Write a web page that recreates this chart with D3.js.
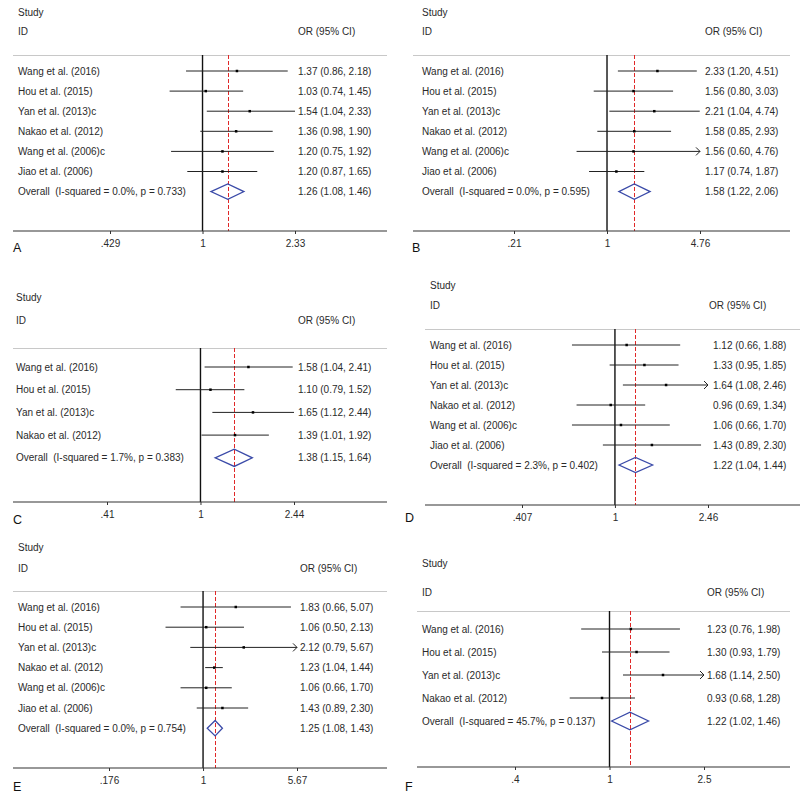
<!DOCTYPE html>
<html><head><meta charset="utf-8">
<script src="https://cdnjs.cloudflare.com/ajax/libs/d3/7.8.5/d3.min.js"></script>
<style>body{margin:0;background:#fff}svg{display:block}text{font-family:"Liberation Sans",Arial,sans-serif}</style>
</head><body>
<script>
// ---- data ----
const studies6 = ["Wang et al. (2016)","Hou et al. (2015)","Yan et al. (2013)c","Nakao et al. (2012)","Wang et al. (2006)c","Jiao et al. (2006)"];
const studies4 = studies6.slice(0, 4);
const panelIds = ["A","B","C","D","E","F"];

const orA = [1.37,1.03,1.54,1.36,1.20,1.20], loA = [0.86,0.74,1.04,0.98,0.75,0.87], hiA = [2.18,1.45,2.33,1.90,1.92,1.65];
const orB = [2.33,1.56,2.21,1.58,1.56,1.17], loB = [1.20,0.80,1.04,0.85,0.60,0.74], hiB = [4.51,3.03,4.74,2.93,4.76,1.87];
const orC = [1.58,1.10,1.65,1.39], loC = [1.04,0.79,1.12,1.01], hiC = [2.41,1.52,2.44,1.92];
const orD = [1.12,1.33,1.64,0.96,1.06,1.43], loD = [0.66,0.95,1.08,0.69,0.66,0.89], hiD = [1.88,1.85,2.46,1.34,1.70,2.30];
const orE = [1.83,1.06,2.12,1.23,1.06,1.43], loE = [0.66,0.50,0.79,1.04,0.66,0.89], hiE = [5.07,2.13,5.67,1.44,1.70,2.30];
const orF = [1.23,1.30,1.68,0.93], loF = [0.76,0.93,1.14,0.68], hiF = [1.98,1.79,2.50,1.28];

const overallOR = [1.26,1.58,1.38,1.22,1.25,1.22];
const overallLo = [1.08,1.22,1.15,1.04,1.08,1.02];
const overallHi = [1.46,2.06,1.64,1.44,1.43,1.46];
const iSquared = ["0.0%","0.0%","1.7%","2.3%","0.0%","45.7%"];
const pValues = ["0.733","0.595","0.383","0.402","0.754","0.137"];

const tickValues = [[0.429,1,2.33],[0.21,1,4.76],[0.41,1,2.44],[0.407,1,2.46],[0.176,1,5.67],[0.4,1,2.5]];
const tickLabels = [[".429","1","2.33"],[".21","1","4.76"],[".41","1","2.44"],[".407","1","2.46"],[".176","1","5.67"],[".4","1","2.5"]];
const arrowRows = [[],[4],[],[2],[2],[2]];

// ---- layout (pixels) ----
const layout = [
  {left:13, right:387, labelX:18, orX:298, orHX:298, studyY:12, idY:31, sepY:55, row0:71, step:20.1, axisY:231, tLo:110, tHi:295, letX:13, letY:248},
  {left:413, right:790, labelX:422, orX:705, orHX:705, studyY:12, idY:31, sepY:55, row0:71, step:20.1, axisY:231, tLo:514, tHi:700, letX:412, letY:248},
  {left:13, right:387, labelX:16, orX:298, orHX:298, studyY:297, idY:320, sepY:348, row0:367, step:22.7, axisY:502, tLo:107, tHi:294, letX:13, letY:520},
  {left:425, right:800, labelX:430, orX:713, orHX:709, studyY:285, idY:305, sepY:329, row0:345, step:20, axisY:505, tLo:522, tHi:708, letX:405, letY:518},
  {left:13, right:387, labelX:18, orX:300, orHX:300, studyY:547, idY:568, sepY:591, row0:607, step:20.2, axisY:768, tLo:109, tHi:297, letX:13, letY:787},
  {left:417, right:790, labelX:422, orX:707, orHX:707, studyY:563, idY:592, sepY:611, row0:629, step:23, axisY:767, tLo:515, tHi:704, letX:405, letY:787}
];

const panels = [
  {studies:studies6, or:orA, lo:loA, hi:hiA},
  {studies:studies6, or:orB, lo:loB, hi:hiB},
  {studies:studies4, or:orC, lo:loC, hi:hiC},
  {studies:studies6, or:orD, lo:loD, hi:hiD},
  {studies:studies6, or:orE, lo:loE, hi:hiE},
  {studies:studies4, or:orF, lo:loF, hi:hiF}
];

const fmt = d3.format(".2f");
const snap = v => Math.round(v) + 0.5;
const svg = d3.select("body").append("svg").attr("width",800).attr("height",794);
const txtCol = "#2a2a2a";
const FS = 10;

panels.forEach((p, k) => {
  const L = layout[k];
  const g = svg.append("g");
  const tv = tickValues[k];
  const x = d3.scaleLog().domain([tv[0], tv[2]]).range([L.tLo, L.tHi]);
  const n = p.studies.length;
  const y = i => L.row0 + i * L.step;

  g.append("text").attr("x",L.labelX).attr("y",L.studyY).attr("dy","0.35em").attr("font-size",FS).attr("fill",txtCol).text("Study");
  g.append("text").attr("x",L.labelX).attr("y",L.idY).attr("dy","0.35em").attr("font-size",FS).attr("fill",txtCol).text("ID");
  g.append("text").attr("x",L.orHX).attr("y",L.idY).attr("dy","0.35em").attr("font-size",FS).attr("fill",txtCol).text("OR (95% CI)");

  g.append("line").attr("x1",L.left).attr("x2",L.right).attr("y1",snap(L.sepY)).attr("y2",snap(L.sepY)).attr("stroke","#c8c8c8").attr("stroke-width",1);

  // null line and overall dashed line
  g.append("line").attr("x1",x(1)).attr("x2",x(1)).attr("y1",L.sepY).attr("y2",L.axisY).attr("stroke","#111").attr("stroke-width",1.4);
  const xo = snap(x(overallOR[k]));
  g.append("line").attr("x1",xo).attr("x2",xo).attr("y1",L.sepY).attr("y2",L.axisY)
    .attr("stroke","#e02828").attr("stroke-width",1).attr("stroke-dasharray","4,2");

  // study rows
  p.studies.forEach((s, i) => {
    const yy = y(i);
    g.append("text").attr("x",L.labelX).attr("y",yy).attr("dy","0.35em").attr("font-size",FS).attr("fill",txtCol).text(s);
    g.append("line").attr("x1",x(p.lo[i])).attr("x2",x(p.hi[i])).attr("y1",yy).attr("y2",yy).attr("stroke","#222").attr("stroke-width",1);
    if (arrowRows[k].includes(i)) {
      const xe = x(p.hi[i]);
      g.append("path").attr("d",`M${xe-4},${yy-4}L${xe},${yy}L${xe-4},${yy+4}`).attr("fill","none").attr("stroke","#222").attr("stroke-width",1);
    }
    g.append("rect").attr("x",x(p.or[i])-1.25).attr("y",yy-1.25).attr("width",2.5).attr("height",2.5).attr("fill","#000");
    g.append("text").attr("x",L.orX).attr("y",yy).attr("dy","0.35em").attr("font-size",FS).attr("fill",txtCol)
      .text(`${fmt(p.or[i])} (${fmt(p.lo[i])}, ${fmt(p.hi[i])})`);
  });

  // overall
  const yo = y(n);
  const h = L.step * 0.38;
  g.append("path").attr("d",`M${x(overallLo[k])},${yo}L${x(overallOR[k])},${yo-h}L${x(overallHi[k])},${yo}L${x(overallOR[k])},${yo+h}Z`)
    .attr("fill","none").attr("stroke","#3a4aa8").attr("stroke-width",1.3);
  g.append("text").attr("x",L.labelX).attr("y",yo).attr("dy","0.35em").attr("font-size",FS).attr("fill",txtCol).attr("xml:space","preserve")
    .text(`Overall  (I-squared = ${iSquared[k]}, p = ${pValues[k]})`);
  g.append("text").attr("x",L.orX).attr("y",yo).attr("dy","0.35em").attr("font-size",FS).attr("fill",txtCol)
    .text(`${fmt(overallOR[k])} (${fmt(overallLo[k])}, ${fmt(overallHi[k])})`);

  // axis
  const axis = d3.axisBottom(x).tickValues(tv).tickFormat((d, j) => tickLabels[k][j]).tickSize(3).tickPadding(6).tickSizeOuter(0);
  const ag = g.append("g").attr("transform",`translate(0,${L.axisY})`).call(axis);
  ag.select(".domain").remove();
  ag.selectAll(".tick line").attr("stroke","#333");
  ag.selectAll(".tick text").attr("font-size",FS).attr("fill",txtCol).attr("font-family","Liberation Sans, Arial, sans-serif");
  g.append("line").attr("x1",L.left).attr("x2",L.right).attr("y1",L.axisY).attr("y2",L.axisY).attr("stroke","#333").attr("stroke-width",1.2);

  g.append("text").attr("x",L.letX).attr("y",L.letY).attr("dy","0.35em").attr("font-size",12.5).attr("fill","#111").text(panelIds[k]);
});
</script>
</body></html>
